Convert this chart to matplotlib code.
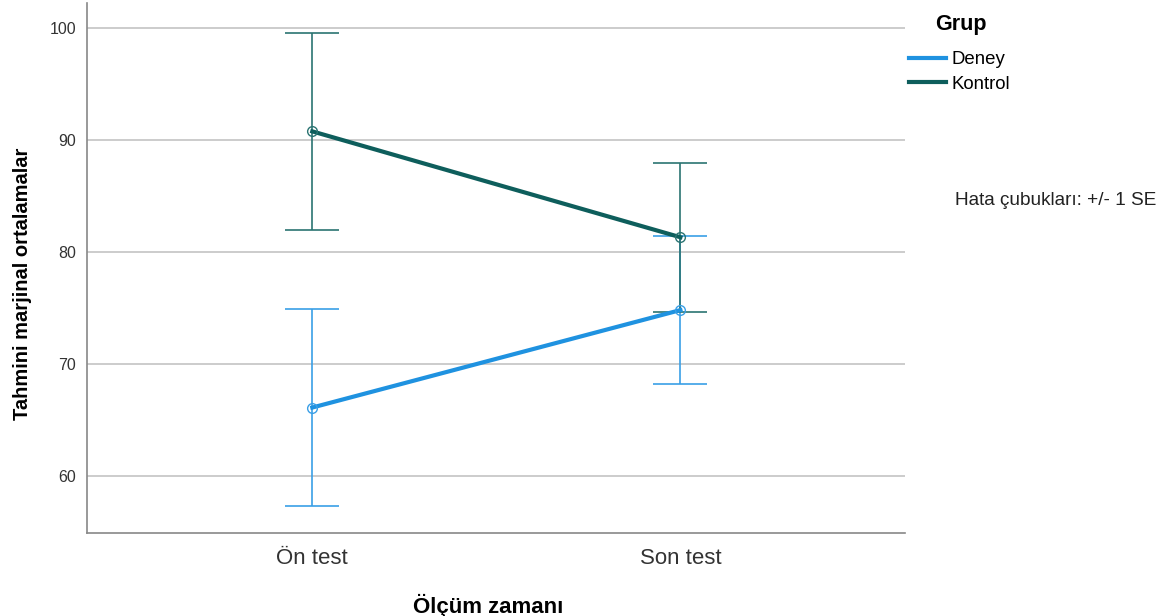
import matplotlib
matplotlib.use("Agg")
import matplotlib.pyplot as plt
from matplotlib.lines import Line2D

plt.rcParams["font.family"] = ["Liberation Sans", "DejaVu Sans"]

CATEGORIES = ["Ön test", "Son test"]
GROUPS = ["Deney", "Kontrol"]
MEANS = {
    "Deney": [66.1, 74.8],
    "Kontrol": [90.75, 81.3],
}
SE = {
    "Deney": [8.8, 6.6],
    "Kontrol": [8.8, 6.65],
}
Y_TICKS = [60, 70, 80, 90, 100]

LINE_COLOR = {"Deney": "#1f92e0", "Kontrol": "#0e5e5c"}
ERR_COLOR = {"Deney": "#3a9fe6", "Kontrol": "#2b7472"}

fig = plt.figure(figsize=(11.68, 6.16), dpi=100)
ax = fig.add_axes([0.0745, 0.1347, 0.7003, 0.8603])

x = list(range(len(CATEGORIES)))
for g in GROUPS:
    ax.errorbar(x, MEANS[g], yerr=SE[g], fmt="none", ecolor=ERR_COLOR[g],
                elinewidth=1.2, capsize=19.5, capthick=1.2, zorder=3)
for g in GROUPS:
    ax.plot(x, MEANS[g], color=LINE_COLOR[g], linewidth=3, zorder=4,
            marker="o", markersize=7, markerfacecolor="none",
            markeredgecolor=ERR_COLOR[g], markeredgewidth=1.0)

ax.set_xlim(-0.612, 1.61)
ax.set_ylim(54.9, 102.2)
ax.set_xticks(x)
ax.set_xticklabels(CATEGORIES, fontsize=16, color="#333333")
ax.set_yticks(Y_TICKS)
ax.set_yticklabels([str(t) for t in Y_TICKS], fontsize=11.5, color="#333333")
ax.tick_params(length=0, pad=8)
ax.tick_params(axis="x", pad=11)
ax.grid(axis="y", color="#c8c8c8", linewidth=1.3)
ax.set_axisbelow(True)
for s in ["top", "right"]:
    ax.spines[s].set_visible(False)
for s in ["left", "bottom"]:
    ax.spines[s].set_color("#888888")
    ax.spines[s].set_linewidth(1.2)

ax.set_xlabel("Ölçüm zamanı", fontsize=16, fontweight="bold")
ax.xaxis.set_label_coords(0.49, -0.114)
ax.set_ylabel("Tahmini marjinal ortalamalar", fontsize=14.5, fontweight="bold")
ax.yaxis.set_label_coords(-0.067, 0.47)

handles = [Line2D([0], [0], color=LINE_COLOR[g], linewidth=3) for g in GROUPS]
leg = fig.legend(handles, GROUPS, loc="upper left", bbox_to_anchor=(0.7673, 0.999),
                 frameon=False, fontsize=13.4, title="Grup", handlelength=2.0,
                 handletextpad=0.27, labelspacing=0.4, alignment="left",
                 borderpad=0.2)
leg.get_title().set_fontsize(15.5)
leg.get_title().set_fontweight("bold")
leg.get_title().set_position((26, 0))
leg._legend_box.sep = 12

fig.text(0.8175, 0.675, "Hata çubukları: +/- 1 SE", fontsize=13.7, color="#222222", va="center")

fig.savefig("out.png", dpi=100)
